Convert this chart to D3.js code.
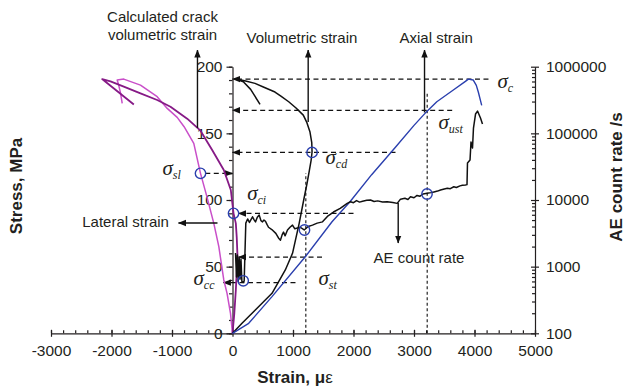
<!DOCTYPE html>
<html>
<head>
<meta charset="utf-8">
<script src="https://cdn.jsdelivr.net/npm/d3@7"></script>
<style>
body { margin: 0; background: #fff; }
svg { display: block; font-family: "Liberation Sans", Arial, sans-serif; }
</style>
</head>
<body>
<div id="chart"></div>
<script>
var strainTicks = [-3000, -2000, -1000, 0, 1000, 2000, 3000, 4000, 5000];
var stressTicks = [0, 50, 100, 150, 200];
var rateTicks = [100, 1000, 10000, 100000, 1000000];

// [strain, stress]
var axialStrain = [[0,0],[268,7.5],[653,27.5],[1203,57.4],[1645,83.7],[1942,98.7],[2300,119],[2700,140],[3000,156],
    [3182,165],[3377,173.7],[3650,182.5],[3850,189],[3898,190.7],[3980,190],[4030,186],[4063,181],[4119,171]];
var volumetricStrain = [[0,0],[157,7.5],[377,17.5],[653,30],[873,47.5],[992,60],[1102,82.5],[1177,100],[1230,112],
    [1270,122],[1300,130],[1315,136],[1310,143],[1281,151],[1230,158],[1170,163.7],[1050,169],[929,173.7],[800,178],
    [702,181],[500,185],[372,187.5],[200,189.5],[41,191],[179,188.7],[300,183],[455,171.7]];
var crackStrain = [[0,0],[30,15],[55,32.5],[83,57.5],[70,72],[55,82.5],[17,90],[-28,107.5],[-144,122.5],[-336,137.5],
    [-529,152],[-749,161],[-1025,170],[-1245,175],[-1521,180],[-1797,185],[-2017,189],[-2154,190.7],[-2099,188.7],[-1631,171.7]];
var lateralStrain = [[0,0],[-33,15],[-90,30],[-144,40],[-226,65],[-309,82.5],[-420,102],[-529,120],[-640,142.5],[-800,155],
    [-914,162],[-1079,168.7],[-1245,177.5],[-1521,186.2],[-1797,190.7],[-1906,190],[-1880,186],[-1850,180],[-1823,172.5]];

// [strain, AE count rate /s]
var aeRate = [[50,1600],[66,700],[80,1500],[95,600],[110,1400],[125,650],[140,1300],[155,600],[175,580],[193,610],
    [205,1500],[220,4500],[250,5200],[280,4600],[331,5600],[360,5000],[380,4700],[410,5500],[441,5950],[470,4900],
    [496,4700],[520,5000],[545,4800],[570,4300],[595,3900],[650,3600],[716,3160],[760,2700],[793,2500],[820,3000],
    [843,3300],[870,2900],[909,3550],[950,3900],[992,4200],[1030,3700],[1074,3800],[1120,3900],[1185,3550],[1250,4000],
    [1322,4200],[1400,4500],[1488,4700],[1580,5800],[1669,6600],[1780,7500],[1896,8900],[1950,9400],[2000,9100],
    [2050,9800],[2100,9300],[2150,9600],[2220,9900],[2281,10000],[2340,9500],[2400,9700],[2480,9300],[2557,9400],
    [2650,9200],[2722,8900],[2777,10300],[2850,10600],[2900,10200],[2942,11200],[3000,10800],[3050,11700],[3100,11400],
    [3150,12300],[3218,12600],[3280,12900],[3330,13200],[3390,13600],[3438,14100],[3500,14600],[3550,15000],[3600,14800],
    [3658,15800],[3700,15400],[3760,16300],[3800,16600],[3851,16800],[3876,17000],[3884,35800],[3926,39800],[3942,74100],
    [3967,60300],[3983,120000],[4017,195000],[4050,216000],[4099,170000],[4132,138000]];

// [stress, from strain, to strain, arrow side]
var dashedLevels = [[190.7,0,4231,"start"],[167.3,0,3631,"start"],[135.7,0,2694,"start"],[120,-450,0,"end"],
    [89.9,99,2000,"start"],[57.2,100,1480,"start"],[38,-150,1041,"start"]];
// [strain, from stress, to stress]
var dottedStrains = [[1212,0,120],[3218,0,181]];
// [strain1, stress1, strain2, stress2]
var pointerArrows = [[-579,154,-579,212.5],[1251,158.5,1251,212.5],[3174,165.7,3174,212.5],[-248,82.7,-893,82.7],[2739,97.7,2739,67.7]];
// [strain, stress]
var markedPoints = [[-529,120],[1315,135.7],[17,90],[177,39.4],[1190,77.5],[3215,104.5]];
// [subscript, strain, stress]
var sigmaLabels = [["c",4380,184],["ust",3405,153],["cd",1537,127],["sl",-1157,118.7],["ci",243,100],["cc",-645,36.2],["st",1421,36.2]];
// [text, strain, stress, anchor]
var curveLabels = [["Calculated crack",-1157,233.5,"middle"],["volumetric strain",-1157,220.3,"middle"],
    ["Volumetric strain",231,217.7,"start"],["Axial strain",2760,217.7,"start"],
    ["Lateral strain",-2484,79.5,"start"],["AE count rate",2331,53,"start"]];

function drawChart() {
    var width = 625, height = 388;

    var x = d3.scaleLinear().domain([-3000, 5000]).range([51, 535]);
    var y = d3.scaleLinear().domain([0, 200]).range([333.3, 66.7]);
    var yRate = d3.scaleLog().domain([100, 1000000]).range([333.3, 66.7]);

    var svg = d3.select("#chart")
                .append("svg")
                .attr("width", width)
                .attr("height", height);

    svg.append("defs")
        .append("marker")
        .attr("id", "head")
        .attr("viewBox", "0 -4 8 8")
        .attr("refX", 7.5)
        .attr("refY", 0)
        .attr("markerUnits", "userSpaceOnUse")
        .attr("markerWidth", 8)
        .attr("markerHeight", 8)
        .attr("orient", "auto")
        .append("path")
        .attr("d", "M0,-3.2L8,0L0,3.2Z")
        .attr("fill", "#111");

    var ink = "#231f20";
    var plain = function(d) { return String(d); };

    // bottom axis
    var minorStrain = d3.range(-3000, 5001, 200);
    svg.append("g")
        .attr("transform", "translate(0," + y(0) + ")")
        .call(d3.axisBottom(x).tickValues(minorStrain).tickSize(-3).tickSizeOuter(0).tickFormat(""))
        .call(function(g) { g.select(".domain").remove(); });

    var bottom = svg.append("g")
        .attr("transform", "translate(0," + y(0) + ")")
        .call(d3.axisBottom(x).tickValues(strainTicks).tickSizeOuter(0).tickFormat(plain));
    bottom.selectAll(".tick line").attr("y1", -3.5).attr("y2", 3.5);
    bottom.selectAll("text").attr("y", 12).attr("font-size", 15.5);

    // left axis
    svg.append("g")
        .attr("transform", "translate(" + x(0) + ",0)")
        .call(d3.axisLeft(y).tickValues(d3.range(0, 201, 10)).tickSize(3.5).tickSizeOuter(0).tickFormat(""))
        .call(function(g) { g.select(".domain").remove(); });

    var left = svg.append("g")
        .attr("transform", "translate(" + x(0) + ",0)")
        .call(d3.axisLeft(y).tickValues(stressTicks).tickSize(6).tickSizeOuter(0).tickFormat(plain));
    left.selectAll("text").attr("x", -10).attr("font-size", 15.5);

    // right axis
    var minorRate = [];
    rateTicks.slice(0, -1).forEach(function(d) {
        for (var k = 2; k < 10; k++) minorRate.push(d * k);
    });
    svg.append("g")
        .attr("transform", "translate(" + x(5000) + ",0)")
        .call(d3.axisRight(yRate).tickValues(minorRate).tickSize(-3).tickSizeOuter(0).tickFormat(""))
        .call(function(g) { g.select(".domain").remove(); });

    var right = svg.append("g")
        .attr("transform", "translate(" + x(5000) + ",0)")
        .call(d3.axisRight(yRate).tickValues(rateTicks).tickSizeOuter(0).tickFormat(plain));
    right.selectAll(".tick line").attr("x1", -4).attr("x2", 4);
    right.selectAll("text").attr("x", 11).attr("font-size", 15.5);

    svg.selectAll(".tick text").attr("fill", ink).attr("font-family", "Liberation Sans, Arial, sans-serif");
    svg.selectAll(".domain, .tick line").attr("stroke", ink).attr("stroke-width", 1.2);

    // axis titles
    var xTitle = svg.append("text")
        .attr("x", 295)
        .attr("y", 383)
        .attr("text-anchor", "middle")
        .attr("font-size", 17)
        .attr("font-weight", "bold")
        .attr("fill", ink);
    xTitle.append("tspan").text("Strain, μ");
    xTitle.append("tspan").attr("font-weight", "normal").text("ε");

    svg.append("text")
        .attr("transform", "translate(22,186) rotate(-90)")
        .attr("text-anchor", "middle")
        .attr("font-size", 17)
        .attr("font-weight", "bold")
        .attr("fill", ink)
        .text("Stress, MPa");

    svg.append("text")
        .attr("transform", "translate(622,177) rotate(-90)")
        .attr("text-anchor", "middle")
        .attr("font-size", 17)
        .attr("font-weight", "bold")
        .attr("fill", ink)
        .text("AE count rate /s");

    // dashed stress levels
    svg.append("g")
        .selectAll("line")
        .data(dashedLevels)
        .enter()
        .append("line")
        .attr("x1", function(d) { return d[3] == "start" ? x(d[2]) : x(d[1]); })
        .attr("x2", function(d) { return d[3] == "start" ? x(d[1]) : x(d[2]); })
        .attr("y1", function(d) { return y(d[0]); })
        .attr("y2", function(d) { return y(d[0]); })
        .attr("stroke", "#111")
        .attr("stroke-width", 1.2)
        .attr("stroke-dasharray", "5,3.5")
        .attr("marker-end", "url(#head)");

    svg.append("g")
        .selectAll("line")
        .data(dottedStrains)
        .enter()
        .append("line")
        .attr("x1", function(d) { return x(d[0]); })
        .attr("x2", function(d) { return x(d[0]); })
        .attr("y1", function(d) { return y(d[1]); })
        .attr("y2", function(d) { return y(d[2]); })
        .attr("stroke", "#111")
        .attr("stroke-width", 1.1)
        .attr("stroke-dasharray", "3,2.5");

    // curves
    var line = d3.line()
        .x(function(d) { return x(d[0]); })
        .y(function(d) { return y(d[1]); });

    var rateLine = d3.line()
        .x(function(d) { return x(d[0]); })
        .y(function(d) { return yRate(d[1]); });

    var curves = [
        [lateralStrain, "#c94fc9", 1.5],
        [crackStrain, "#861a86", 1.8],
        [volumetricStrain, "#111", 1.5],
        [axialStrain, "#2a3fae", 1.4]
    ];

    svg.append("g")
        .selectAll("path")
        .data(curves)
        .enter()
        .append("path")
        .attr("d", function(d) { return line(d[0]); })
        .attr("fill", "none")
        .attr("stroke", function(d) { return d[1]; })
        .attr("stroke-width", function(d) { return d[2]; })
        .attr("stroke-linejoin", "round");

    svg.append("path")
        .attr("d", rateLine(aeRate))
        .attr("fill", "none")
        .attr("stroke", "#111")
        .attr("stroke-width", 1.5)
        .attr("stroke-linejoin", "round");

    // pointer arrows
    svg.append("g")
        .selectAll("line")
        .data(pointerArrows)
        .enter()
        .append("line")
        .attr("x1", function(d) { return x(d[0]); })
        .attr("y1", function(d) { return y(d[1]); })
        .attr("x2", function(d) { return x(d[2]); })
        .attr("y2", function(d) { return y(d[3]); })
        .attr("stroke", "#111")
        .attr("stroke-width", 1.4)
        .attr("marker-end", "url(#head)");

    // marked points
    svg.append("g")
        .selectAll("circle")
        .data(markedPoints)
        .enter()
        .append("circle")
        .attr("cx", function(d) { return x(d[0]); })
        .attr("cy", function(d) { return y(d[1]); })
        .attr("r", 5.2)
        .attr("fill", "none")
        .attr("stroke", "#2a3fae")
        .attr("stroke-width", 1.4);

    // sigma labels
    var sig = svg.append("g")
        .selectAll("text")
        .data(sigmaLabels)
        .enter()
        .append("text")
        .attr("x", function(d) { return x(d[1]); })
        .attr("y", function(d) { return y(d[2]); })
        .attr("font-family", "Liberation Serif, Times New Roman, serif")
        .attr("font-style", "italic")
        .attr("font-size", 21)
        .attr("fill", ink);
    sig.append("tspan").text("σ");
    sig.append("tspan")
        .attr("font-size", 12)
        .attr("dy", 4)
        .text(function(d) { return d[0]; });

    // curve labels
    svg.append("g")
        .selectAll("text")
        .data(curveLabels)
        .enter()
        .append("text")
        .attr("x", function(d) { return x(d[1]); })
        .attr("y", function(d) { return y(d[2]); })
        .attr("text-anchor", function(d) { return d[3]; })
        .attr("font-size", 15)
        .attr("fill", ink)
        .text(function(d) { return d[0]; });
}

drawChart();
</script>
</body>
</html>
